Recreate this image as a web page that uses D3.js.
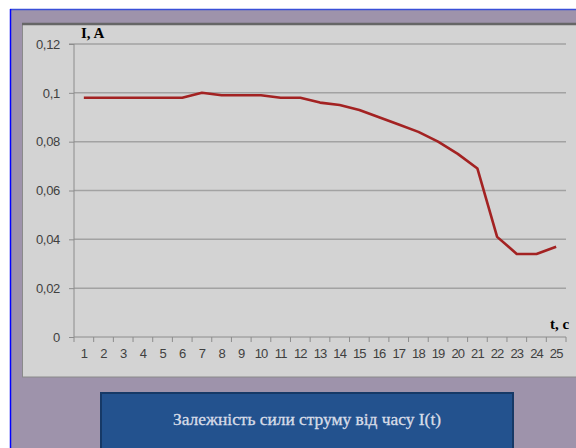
<!DOCTYPE html>
<html><head><meta charset="utf-8">
<script src="https://cdn.jsdelivr.net/npm/d3@7"></script>
<style>html,body{margin:0;padding:0;background:#fff;overflow:hidden}</style>
</head><body>
<script>
const categories = ["1","2","3","4","5","6","7","8","9","10","11","12","13","14","15","16","17","18","19","20","21","22","23","24","25"];
const currentValues = [0.098,0.098,0.098,0.098,0.098,0.098,0.100,0.099,0.099,0.099,0.098,0.098,0.096,0.095,0.093,0.090,0.087,0.084,0.080,0.075,0.069,0.041,0.034,0.034,0.037];
const yTicks = [0,0.02,0.04,0.06,0.08,0.1,0.12];
const yTickLabels = ["0","0,02","0,04","0,06","0,08","0,1","0,12"];
const yLabel = "I, A";
const xLabel = "t, c";
const captionText = "Залежність сили струму від часу I(t)";

const W = 576, H = 448;
const svg = d3.select("body").append("svg").attr("width", W).attr("height", H);

// slide background
svg.append("rect").attr("x",0).attr("y",0).attr("width",W).attr("height",H).attr("fill","#fff");
svg.append("rect").attr("x",10).attr("y",9).attr("width",W-10).attr("height",H-9).attr("fill","#9e93ab");
svg.append("line").attr("x1",10).attr("x2",W).attr("y1",9.5).attr("y2",9.5).attr("stroke","#3a4fd8").attr("stroke-width",1.5);
svg.append("line").attr("x1",10.5).attr("x2",10.5).attr("y1",9).attr("y2",H).attr("stroke","#0000ff").attr("stroke-width",1.5);

// chart area
svg.append("rect").attr("x",22.5).attr("y",24).attr("width",W).attr("height",353).attr("fill","#d3d3d3").attr("stroke","#8a8a8a").attr("stroke-width",1);
svg.append("line").attr("x1",22).attr("x2",W).attr("y1",24).attr("y2",24).attr("stroke","#666").attr("stroke-width",2.5);

const x0 = 74, x1 = 566, yTop = 44, yBot = 337;
const x = d3.scaleBand().domain(categories).range([x0, x1]);
const y = d3.scaleLinear().domain([0, 0.12]).range([yBot, yTop]);

// gridlines
svg.append("g").selectAll("line").data(yTicks.filter(d => d > 0)).join("line")
  .attr("x1", x0).attr("x2", x1).attr("y1", d => y(d)).attr("y2", d => y(d))
  .attr("stroke","#a2a2a2").attr("stroke-width",1.5);

// y axis
const yAxis = d3.axisLeft(y).tickValues(yTicks).tickFormat((d,i) => yTickLabels[i]).tickSize(5).tickPadding(9);
const gy = svg.append("g").attr("transform",`translate(${x0},0)`).call(yAxis);
gy.select(".domain").attr("stroke","#8c8c8c").attr("stroke-width",1).attr("d",`M-5,${yTop}H0V${yBot}`);
gy.selectAll(".tick line").attr("stroke","#8c8c8c");
gy.selectAll("text").attr("fill","#404040").style("font-family","Liberation Sans, Arial, sans-serif").style("font-size","13px").attr("letter-spacing","-0.3");

// x axis
const xAxis = d3.axisBottom(x).tickSize(0).tickPadding(12);
const gx = svg.append("g").attr("transform",`translate(0,${yBot})`).call(xAxis);
gx.select(".domain").attr("stroke","#8c8c8c").attr("d",`M${x0},0H${x1}`);
gx.selectAll("text").attr("fill","#404040").style("font-family","Liberation Sans, Arial, sans-serif").style("font-size","13px").attr("letter-spacing","-0.9");
// boundary tick marks
const bounds = categories.map(c => x(c)).concat([x1]);
svg.append("g").selectAll("line").data(bounds).join("line")
  .attr("x1", d => d).attr("x2", d => d).attr("y1", yBot).attr("y2", yBot+5)
  .attr("stroke","#8c8c8c").attr("stroke-width",1);

// line
const line = d3.line().x((d,i) => x(categories[i]) + x.bandwidth()/2).y(d => y(d));
svg.append("path").datum(currentValues).attr("d", line)
  .attr("fill","none").attr("stroke","#a32222").attr("stroke-width",2.6).attr("stroke-linejoin","round");

// axis titles
svg.append("text").attr("x",81).attr("y",38).text(yLabel)
  .style("font-family","Liberation Serif, Times New Roman, serif").style("font-weight","bold").style("font-size","15px").attr("fill","#000");
svg.append("text").attr("x",550).attr("y",329).text(xLabel)
  .style("font-family","Liberation Serif, Times New Roman, serif").style("font-weight","bold").style("font-size","15px").attr("fill","#000");

// caption box
svg.append("rect").attr("x",101).attr("y",393).attr("width",412).attr("height",60)
  .attr("fill","#23528e").attr("stroke","#163966").attr("stroke-width",2);
svg.append("text").attr("x",307).attr("y",425).attr("text-anchor","middle").text(captionText)
  .attr("textLength",268).attr("lengthAdjust","spacingAndGlyphs")
  .style("font-family","Liberation Serif, Times New Roman, serif").style("font-size","16px").attr("fill","#d8dde8")
  .attr("stroke","#d8dde8").attr("stroke-width",0.3);
</script>
</body></html>
